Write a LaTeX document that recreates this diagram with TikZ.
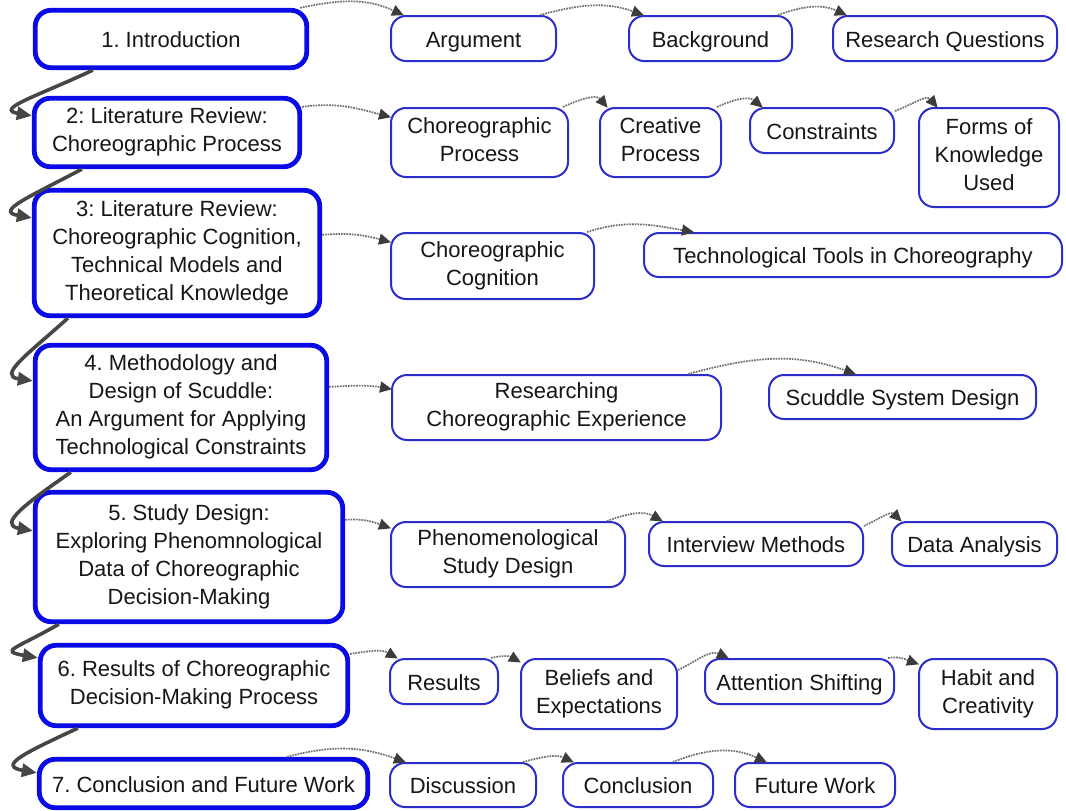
\documentclass[tikz,border=0pt]{standalone}
\usepackage{fontspec}
\setmainfont{Liberation Sans}
\usetikzlibrary{arrows.meta}
\definecolor{chapblue}{RGB}{10,10,230}
\definecolor{subblue}{RGB}{45,45,205}
\definecolor{txt}{RGB}{22,22,22}
\definecolor{dotgray}{RGB}{110,110,110}
\definecolor{tipgray}{RGB}{60,60,60}
\definecolor{flowgray}{RGB}{70,70,70}
\newcommand{\topstrut}{\rule{0pt}{22.5pt}}
\newcommand{\botstrut}{\rule[-5pt]{0pt}{5pt}}
\frenchspacing
\begin{document}
\begin{tikzpicture}[x=1pt,y=1pt,
  every node/.style={font=\fontsize{22}{28}\selectfont, text=txt, align=center, inner sep=0pt,
    execute at begin node=\topstrut, execute at end node=\botstrut},
  chap/.style={draw=chapblue, line width=4.8pt, rounded corners=16pt, fill=white},
  sub/.style={draw=subblue, line width=2pt, rounded corners=15pt, fill=white},
  seq/.style={draw=dotgray, line width=1.7pt, densely dotted,
    -{Triangle[length=12pt,width=11pt,color=tipgray]}, shorten >=-1pt},
  flow/.style={draw=flowgray, line width=3.6pt,
    -{Triangle[length=15pt,width=13pt,color=flowgray]}}]
\useasboundingbox[fill=white] (0,0) rectangle (1066,-811);

% chapters
\node[chap, minimum width=271.5, minimum height=57.5] (c1) at (171,-39) {1. Introduction};
\node[chap, minimum width=265.5, minimum height=68.5] (c2) at (167,-132.5) {2: Literature Review:\\Choreographic Process};
\node[chap, minimum width=285.5, minimum height=125.5] (c3) at (177,-253) {3: Literature Review:\\Choreographic Cognition,\\Technical Models and\\Theoretical Knowledge};
\node[chap, minimum width=291.5, minimum height=124.5] (c4) at (181,-407.5) {4. Methodology and\\Design of Scuddle:\\An Argument for Applying\\Technological Constraints};
\node[chap, minimum width=307.5, minimum height=129.5] (c5) at (189,-557) {5. Study Design:\\Exploring Phenomnological\\Data of Choreographic\\Decision-Making};
\node[chap, minimum width=307.5, minimum height=80.5] (c6) at (194,-685.5) {6. Results of Choreographic\\Decision-Making Process};
\node[chap, minimum width=328.5, minimum height=48.5] (c7) at (203.5,-783.5) {7. Conclusion and Future Work};

% sections, row by row
\node[sub, minimum width=165, minimum height=45] (arg) at (473.5,-38.5) {Argument};
\node[sub, minimum width=163, minimum height=45] (bg) at (710.5,-38.5) {Background};
\node[sub, minimum width=224, minimum height=45] (rq) at (945,-38.5) {Research Questions};

\node[sub, minimum width=177, minimum height=69] (cp) at (479.5,-142.5) {Choreographic\\Process};
\node[sub, minimum width=121, minimum height=69] (crp) at (660.5,-142.5) {Creative\\Process};
\node[sub, minimum width=144, minimum height=45] (cons) at (822,-130.5) {Constraints};
\node[sub, minimum width=140, minimum height=99] (fk) at (989,-157.5) {Forms of\\Knowledge\\Used};

\node[sub, minimum width=203, minimum height=66] (cc) at (492.5,-266) {Choreographic\\Cognition};
\node[sub, minimum width=418, minimum height=44] (tt) at (853,-255) {Technological Tools in Choreography};

\node[sub, minimum width=329, minimum height=65] (rce) at (556.5,-407.5) {Researching\\Choreographic Experience};
\node[sub, minimum width=267, minimum height=44] (ssd) at (902.5,-397) {Scuddle System Design};

\node[sub, minimum width=234, minimum height=65] (psd) at (508,-554.5) {Phenomenological\\Study Design};
\node[sub, minimum width=214, minimum height=44] (im) at (756,-544) {Interview Methods};
\node[sub, minimum width=165, minimum height=44] (da) at (974.5,-544) {Data Analysis};

\node[sub, minimum width=108, minimum height=45] (res) at (444,-681.5) {Results};
\node[sub, minimum width=156, minimum height=70] (be) at (599,-694) {Beliefs and\\Expectations};
\node[sub, minimum width=189, minimum height=45] (as) at (799.5,-681.5) {Attention Shifting};
\node[sub, minimum width=138, minimum height=70] (hc) at (988,-694) {Habit and\\Creativity};

\node[sub, minimum width=146, minimum height=44] (dis) at (463,-785) {Discussion};
\node[sub, minimum width=150, minimum height=44] (con) at (638,-785) {Conclusion};
\node[sub, minimum width=160, minimum height=44] (fw) at (815,-785) {Future Work};

% chapter to chapter
\draw[flow] ([xshift=60]c1.south west) .. controls +(205:62) and +(170:38) .. ([yshift=-20]c2.north west);
\draw[flow] ([xshift=50]c2.south west) .. controls +(208:58) and +(170:38) .. ([yshift=-30]c3.north west);
\draw[flow] ([xshift=36]c3.south west) .. controls +(222:55) and +(172:36) .. ([yshift=-38]c4.north west);
\draw[flow] ([xshift=38]c4.south west) .. controls +(215:55) and +(170:36) .. ([yshift=-41]c5.north west);
\draw[flow] ([xshift=26]c5.south west) .. controls +(210:50) and +(170:40) .. ([yshift=-15]c6.north west);
\draw[flow] ([xshift=40]c6.south west) .. controls +(205:60) and +(170:40) .. ([yshift=-16]c7.north west);

% chapter to its sections, section to section
\draw[seq] ([xshift=-9]c1.north east) to[out=12,in=155] ([xshift=13]arg.north west);
\draw[seq] ([xshift=-17]arg.north east) to[out=15,in=160] ([xshift=15]bg.north west);
\draw[seq] ([xshift=-15]bg.north east) to[out=20,in=155] ([xshift=14]rq.north west);

\draw[seq] ([yshift=-11]c2.north east) to[out=8,in=165] ([yshift=-10]cp.north west);
\draw[seq] ([xshift=-6]cp.north east) to[out=25,in=130] ([xshift=8]crp.north west);
\draw[seq] ([xshift=-5]crp.north east) to[out=25,in=140] ([xshift=13]cons.north west);
\draw[seq] ([yshift=-4]cons.north east) to[out=20,in=130] ([xshift=19]fk.north west);

\draw[seq] ([yshift=-47]c3.north east) to[out=5,in=165] ([yshift=-10]cc.north west);
\draw[seq] ([xshift=-8]cc.north east) to[out=18,in=170] ([xshift=50]tt.north west);

\draw[seq] ([yshift=-44]c4.north east) to[out=3,in=170] ([yshift=-15]rce.north west);
\draw[seq] ([xshift=-34]rce.north east) to[out=15,in=160] ([xshift=87]ssd.north west);

\draw[seq] ([yshift=-30]c5.north east) to[out=5,in=160] ([yshift=-7]psd.north west);
\draw[seq] ([xshift=-19]psd.north east) to[out=20,in=150] ([xshift=14]im.north west);
\draw[seq] ([yshift=-5]im.north east) to[out=25,in=135] ([xshift=10]da.north west);

\draw[seq] ([yshift=-11]c6.north east) to[out=8,in=150] ([xshift=8]res.north west);
\draw[seq] ([xshift=-8]res.north east) to[out=15,in=150] ([yshift=-4]be.north west);
\draw[seq] ([yshift=-12]be.north east) to[out=25,in=155] ([xshift=24]as.north west);
\draw[seq] ([xshift=-7]as.north east) to[out=10,in=160] ([yshift=-6]hc.north west);

\draw[seq] ([xshift=-83]c7.north east) to[out=15,in=160] ([xshift=16]dis.north west);
\draw[seq] ([xshift=-14]dis.north east) to[out=15,in=155] ([xshift=11]con.north west);
\draw[seq] ([xshift=-41]con.north east) to[out=22,in=155] ([xshift=32]fw.north west);
\end{tikzpicture}
\end{document}
